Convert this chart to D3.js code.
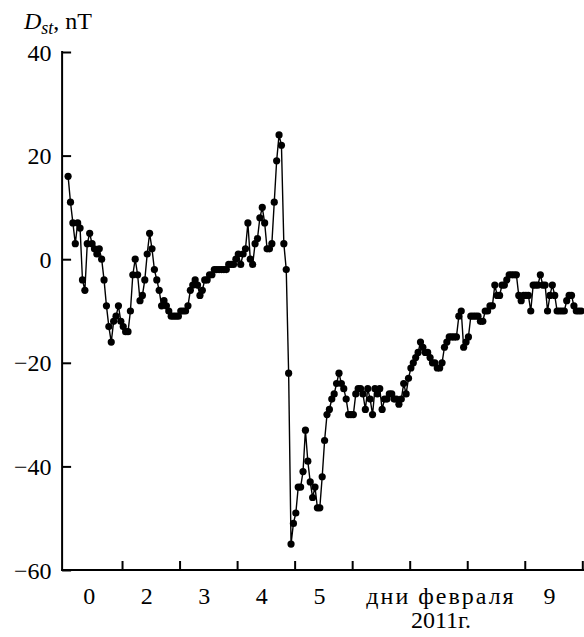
<!DOCTYPE html>
<html>
<head>
<meta charset="utf-8">
<script src="https://cdn.jsdelivr.net/npm/d3@7"></script>
<style>
	body { margin: 0; background: #fff; }
</style>
</head>
<body>
<div id="chart"></div>
<script>
// hourly Dst values, 1-9 Feb 2011
var dst = [
	16, 11, 7, 3, 7, 6, -4, -6, 3, 5,
	3, 2, 1, 2, 0, -4, -9, -13, -16, -12,
	-11, -9, -12, -13, -14, -14, -10, -3, 0, -3,
	-8, -7, -4, 1, 5, 2, -2, -4, -6, -9,
	-8, -9, -10, -11, -11, -11, -11, -10, -10, -10,
	-9, -6, -5, -4, -5, -7, -6, -4, -4, -3,
	-3, -2, -2, -2, -2, -2, -2, -1, -1, -1,
	0, 1, -1, 1, 2, 7, 0, -1, 3, 4,
	8, 10, 7, 2, 2, 3, 11, 19, 24, 22,
	3, -2, -22, -55, -51, -49, -44, -44, -41, -33,
	-39, -43, -46, -44, -48, -48, -42, -35, -30, -29,
	-27, -26, -24, -22, -24, -25, -27, -30, -30, -30,
	-26, -25, -25, -26, -29, -25, -27, -30, -25, -26,
	-25, -29, -27, -27, -26, -26, -27, -27, -28, -27,
	-24, -26, -23, -21, -20, -19, -18, -16, -17, -18,
	-18, -19, -20, -20, -21, -21, -20, -17, -16, -15,
	-15, -15, -15, -11, -10, -17, -16, -15, -11, -11,
	-11, -11, -12, -12, -10, -10, -9, -9, -5, -7,
	-7, -5, -5, -4, -3, -3, -3, -3, -7, -8,
	-7, -7, -7, -10, -5, -5, -5, -3, -5, -5,
	-10, -7, -5, -7, -10, -10, -10, -10, -8, -7,
	-7, -9, -10, -10, -10
];
var firstHour = 1.5;
var dayLabels = ['0', '2', '3', '4', '5', '', '', '', '9'];
var dayEdges = [24, 48, 72, 96, 120, 144, 168, 192, 216];
var yTicks = [40, 20, 0, -20, -40, -60];
var axisCaption = ['дни февраля', '2011г.'];

var w = 584;
var h = 637;
var serif = '"Liberation Serif", "Times New Roman", "DejaVu Serif", serif';

var svg = d3.select('#chart')
	.append('svg')
	.attr('width', w)
	.attr('height', h);

var xScale = d3.scaleLinear()
	.domain([0, 216])
	.range([64.5, 582.3]);
var yScale = d3.scaleLinear()
	.domain([-60, 40])
	.range([570, 52]);

var x0 = xScale(-1);
var yBase = yScale(-60);

// y axis
var yAxis = d3.axisLeft(yScale)
	.tickValues(yTicks)
	.tickSize(-9)
	.tickPadding(10.5)
	.tickFormat(function (d) { return d < 0 ? '\u2212' + Math.abs(d) : d; });
var gy = svg.append('g')
	.attr('transform', 'translate(' + x0 + ',0)')
	.call(yAxis);
gy.select('.domain').remove();
gy.selectAll('line').attr('stroke', '#000').attr('stroke-width', 2);
gy.selectAll('text')
	.attr('font-family', serif)
	.attr('font-size', '24px')
	.attr('fill', '#000')
	.attr('dy', '0.34em');
svg.append('line')
	.attr('x1', x0).attr('x2', x0)
	.attr('y1', yScale(40) - 1).attr('y2', yBase + 1)
	.attr('stroke', '#000')
	.attr('stroke-width', 2);

// x axis: tick marks at day edges, labels in the middle of each day
var xTickAxis = d3.axisBottom(xScale)
	.tickValues(dayEdges)
	.tickSize(-9)
	.tickFormat('');
var gx = svg.append('g')
	.attr('transform', 'translate(0,' + yBase + ')')
	.call(xTickAxis);
gx.select('.domain').remove();
gx.selectAll('line').attr('stroke', '#000').attr('stroke-width', 2);
svg.append('line')
	.attr('x1', x0 - 1).attr('x2', w)
	.attr('y1', yBase).attr('y2', yBase)
	.attr('stroke', '#000')
	.attr('stroke-width', 2);

var xLabelAxis = d3.axisBottom(xScale)
	.tickValues(dayLabels.map(function (d, i) { return i * 24 + 12; }))
	.tickSize(0)
	.tickPadding(17)
	.tickFormat(function (d, i) { return dayLabels[i]; });
var gl = svg.append('g')
	.attr('transform', 'translate(-4.5,' + yBase + ')')
	.call(xLabelAxis);
gl.select('.domain').remove();
gl.selectAll('text')
	.attr('font-family', serif)
	.attr('font-size', '24px')
	.attr('fill', '#000');

svg.selectAll('.caption')
	.data(axisCaption)
	.enter()
	.append('text')
	.attr('class', 'caption')
	.attr('x', 441)
	.attr('y', function (d, i) { return 604 + i * 24; })
	.attr('text-anchor', 'middle')
	.attr('font-family', serif)
	.attr('font-size', '24px')
	.attr('letter-spacing', function (d, i) { return i == 0 ? '2px' : '0px'; })
	.text(function (d) { return d; });

// y title: D_st, nT
var title = svg.append('text')
	.attr('x', 24)
	.attr('y', 28.5)
	.attr('font-family', serif)
	.attr('font-size', '24px');
title.append('tspan').attr('font-style', 'italic').text('D');
title.append('tspan').attr('font-style', 'italic').attr('font-size', '18px').attr('dy', 5).text('st');
title.append('tspan').attr('dy', -5).text(', nT');

// data
var line = d3.line()
	.x(function (d, i) { return xScale(firstHour + i); })
	.y(function (d) { return yScale(d); });
svg.append('path')
	.datum(dst)
	.attr('d', line)
	.attr('fill', 'none')
	.attr('stroke', '#000')
	.attr('stroke-width', 1.4);
svg.selectAll('circle')
	.data(dst)
	.enter()
	.append('circle')
	.attr('cx', function (d, i) { return xScale(firstHour + i); })
	.attr('cy', function (d) { return yScale(d); })
	.attr('r', 3.6)
	.attr('fill', '#000');
</script>
</body>
</html>
